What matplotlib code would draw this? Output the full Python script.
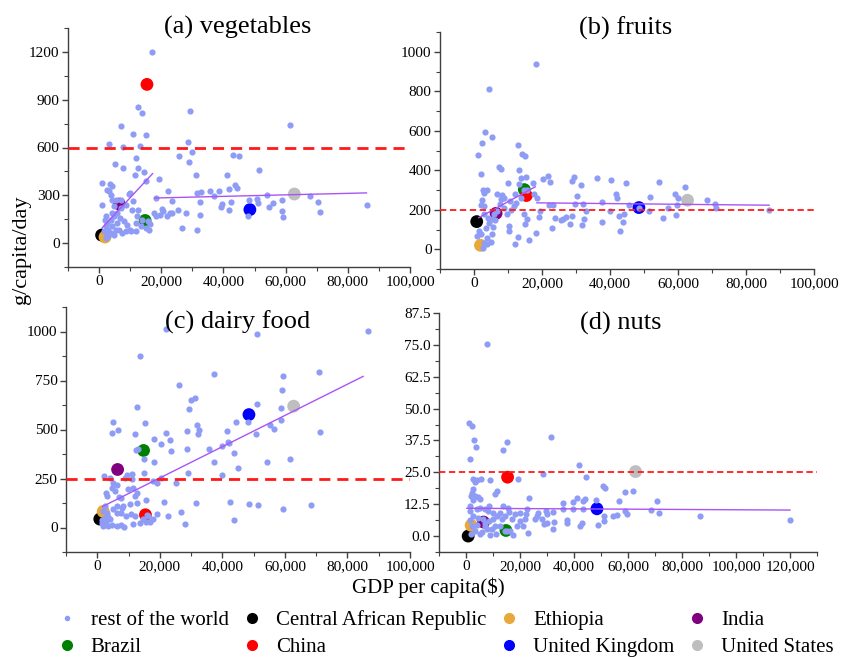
import numpy as np
import matplotlib.pyplot as plt
from matplotlib.lines import Line2D
from matplotlib.ticker import MultipleLocator, FuncFormatter

plt.rcParams['font.family'] = ['Liberation Serif', 'DejaVu Serif']

# ---- highlighted countries ----
countries = ['Central African Republic', 'Ethiopia', 'India', 'Brazil',
             'China', 'United Kingdom', 'United States']
country_colors = ['#000000', '#E8A93A', '#800080', '#008000',
                  '#FF0000', '#0000FF', '#BEBEBE']
country_gdp = [800, 1900, 6500, 14800, 15400, 48500, 62800]

veg_country = [50, 38, 245, 142, 996, 210, 308]
fruit_country = [140, 20, 182, 302, 272, 211, 248]
dairy_country = [43, 82, 296, 393, 65, 576, 619]
nuts_country = [0, 4.2, 5.5, 2.2, 23.1, 10.7, 25.3]

# recommended intake
veg_limit = 600
fruit_limit = 200
dairy_limit = 250
nuts_limit = 25

# fitted lines (gdp, value) at ends of each segment
veg_fit = [([900, 17200], [94, 436]), ([17900, 86000], [283, 315])]
fruit_fit = [([1400, 18000], [160, 316]), ([18500, 86800], [235, 223])]
dairy_fit = [([1700, 85000], [107, 771])]
nuts_fit = [([300, 120000], [10.9, 10.2])]

# ---- rest of the world: (gdp per capita, g/capita/day) ----
veg_rest = [
    (17070, 1200), (12590, 854), (13870, 818), (29120, 828), (6930, 734), (10880, 686),
    (15150, 678), (61330, 740), (3200, 623), (7680, 602), (13120, 608), (28590, 634),
    (29760, 573), (25810, 545), (43200, 552), (45010, 548), (29010, 508), (5230, 499),
    (7680, 472), (12590, 470), (11730, 531), (14400, 447), (11520, 430), (15150, 388),
    (51310, 461), (31250, 426), (41170, 428), (19200, 405), (1070, 376), (3410, 373),
    (2450, 331), (3200, 325), (3730, 304), (10030, 317), (11000, 262), (22080, 327),
    (32850, 319), (31570, 313), (38720, 327), (43730, 363), (44270, 344), (41920, 342),
    (53870, 302), (67840, 296), (70400, 256), (70930, 195), (58880, 273), (56000, 250),
    (54720, 227), (58670, 204), (59200, 164), (48000, 168), (48320, 273), (50670, 279),
    (51200, 252), (42450, 256), (41920, 210), (36800, 296), (35730, 325), (32530, 256),
    (32320, 174), (31470, 84), (26670, 94), (27950, 189), (25280, 210), (23360, 266),
    (18450, 284), (39470, 248), (39150, 227), (86190, 237), (20270, 215), (20590, 200),
    (19730, 178), (22930, 189), (21870, 168), (23470, 190), (18350, 172), (15790, 136),
    (16000, 84), (12270, 168), (11950, 126), (10450, 210), (9070, 115), (8000, 136),
    (6610, 157), (5870, 126), (4800, 168), (4270, 189), (4800, 231), (4050, 273),
    (7150, 220), (8750, 241), (8530, 73), (10130, 73), (11730, 73), (13330, 105),
    (13870, 147), (14930, 94), (3730, 147), (2670, 126), (2130, 105), (1600, 73),
    (3000, 84), (4270, 105), (5330, 84), (6400, 84), (7470, 63), (3730, 63),
    (2670, 52), (4800, 52), (1810, 147), (1070, 241), (5870, 189), (9810, 84),
    (2130, 168), (5330, 273), (6930, 273), (4270, 357), (2300, 35), (2800, 45),
    (17500, 190), (16500, 120), (9500, 310), (12500, 210),
]

fruit_rest = [
    (18240, 937), (4410, 813), (3240, 596), (5290, 568), (2250, 537), (12940, 527),
    (1080, 478), (14020, 481), (15000, 470), (7350, 414), (7840, 405), (2160, 383),
    (13240, 400), (13730, 363), (15200, 368), (10000, 333), (17250, 333), (2750, 301),
    (3730, 301), (2940, 284), (2250, 248), (1960, 225), (2940, 220), (6860, 279),
    (8330, 274), (8820, 262), (7840, 255), (10590, 245), (12060, 279), (13240, 329),
    (14710, 301), (13730, 262), (12450, 236), (11760, 221), (10980, 198), (9610, 177),
    (8820, 211), (7650, 228), (6860, 194), (5880, 177), (5200, 152), (5690, 113),
    (5200, 76), (5100, 39), (3920, 59), (2940, 34), (3920, 25), (2650, 8),
    (1960, 76), (1470, 93), (1000, 68), (3430, 110), (4410, 135), (10290, 118),
    (10290, 93), (12060, 29), (13040, 62), (14710, 177), (14900, 127), (15490, 152),
    (16080, 46), (18240, 81), (18530, 262), (17650, 279), (19360, 194), (19260, 164),
    (20390, 358), (21760, 372), (22350, 341), (22060, 223), (23330, 223), (23720, 160),
    (22840, 110), (25490, 149), (26270, 152), (27160, 164), (28240, 130), (28920, 169),
    (28920, 346), (29410, 368), (29610, 231), (30290, 270), (31570, 324), (31960, 231),
    (31760, 123), (32350, 152), (33040, 194), (36270, 363), (37650, 238), (37550, 140),
    (40290, 350), (40000, 194), (41670, 279), (42160, 258), (42650, 169), (43040, 93),
    (43820, 138), (44710, 333), (44220, 181), (45690, 223), (51670, 265), (51470, 194),
    (54410, 341), (55590, 160), (56960, 211), (59220, 279), (59900, 262), (59710, 225),
    (59510, 172), (61960, 313), (68630, 248), (70780, 231), (71270, 211), (86760, 198),
    (48600, 211), (15600, 300), (4200, 160), (6200, 150), (3000, 180),
]

dairy_rest = [
    (22060, 1014), (51220, 988), (86530, 1005), (13790, 873), (37330, 783), (25980, 729),
    (70840, 792), (59490, 771), (59170, 700), (12830, 615), (30010, 651), (31390, 661),
    (29270, 605), (51220, 631), (58850, 610), (58640, 551), (55140, 522), (56520, 505),
    (71270, 488), (50690, 478), (44330, 539), (48040, 539), (31810, 522), (32660, 495),
    (32340, 478), (21850, 483), (23120, 444), (23440, 390), (20260, 427), (18030, 449),
    (15160, 534), (5090, 537), (6680, 500), (4560, 480), (11980, 478), (12510, 396),
    (14950, 347), (18030, 336), (14950, 276), (11240, 271), (28950, 280), (28630, 402),
    (28630, 492), (35790, 398), (37170, 336), (40030, 415), (41410, 492), (41940, 437),
    (42260, 430), (43850, 381), (45120, 305), (39820, 268), (54300, 336), (61610, 347),
    (20260, 254), (19090, 229), (17820, 237), (25240, 229), (21320, 132), (22590, 59),
    (26830, 81), (28100, 17), (31600, 127), (42520, 132), (43580, 37), (48570, 122),
    (51540, 115), (59490, 93), (68290, 114), (2120, 263), (4030, 254), (5090, 225),
    (6360, 217), (4560, 200), (2760, 178), (3180, 161), (5620, 186), (7000, 158),
    (8800, 254), (9860, 198), (11450, 203), (11980, 161), (12720, 178), (12720, 127),
    (10390, 119), (8270, 110), (7740, 76), (6360, 76), (9330, 59), (10920, 68),
    (11980, 59), (11450, 17), (13570, 25), (14630, 42), (15690, 29), (16960, 29),
    (16220, 59), (17820, 42), (19090, 68), (15690, 140), (7740, 153), (6250, 8),
    (4770, 12), (3500, 8), (1910, 8), (7740, 12), (8480, 2), (4030, 42),
    (2440, 51), (1380, 25), (3180, 76), (4880, 93), (1910, 85), (2440, 110),
    (6360, 110), (15900, 66), (1500, 40), (2800, 30), (3500, 55), (9500, 270),
    (11000, 250), (13000, 400), (8000, 100),
]

nuts_rest = [
    (7780, 75.4), (1110, 44.3), (2100, 43.0), (3090, 37.8), (3700, 34.9), (1600, 30.3),
    (31480, 38.8), (15060, 36.8), (13830, 33.9), (41980, 28.0), (28640, 24.3), (44320, 23.3),
    (2720, 22.4), (3950, 22.1), (5430, 22.4), (8890, 22.1), (19140, 22.4), (3330, 21.1),
    (2470, 18.4), (2100, 16.7), (1730, 15.8), (3330, 15.8), (4570, 15.5), (5190, 14.5),
    (11360, 17.8), (10740, 16.4), (50620, 19.7), (51480, 18.8), (58890, 17.1), (61730, 17.5),
    (23330, 14.9), (41110, 15.1), (44070, 14.5), (39750, 13.4), (36050, 12.8), (48150, 14.1),
    (56540, 13.8), (70860, 13.6), (1480, 11.8), (3950, 10.5), (5190, 11.2), (7040, 10.5),
    (8270, 9.9), (10120, 8.9), (12590, 9.2), (13830, 11.8), (15680, 11.2), (16050, 9.5),
    (18150, 8.6), (20000, 8.9), (22220, 8.6), (26790, 9.2), (26170, 7.9), (29630, 9.9),
    (29880, 8.6), (28020, 6.8), (28890, 4.6), (32100, 9.6), (32720, 5.7), (32220, 2.6),
    (37280, 6.3), (37280, 5.3), (43460, 13.8), (43330, 10.5), (42840, 5.0), (42220, 3.9),
    (48770, 4.2), (51110, 7.9), (51230, 5.8), (54320, 7.9), (55800, 8.3), (58890, 9.9),
    (59750, 8.8), (68400, 10.1), (71480, 9.2), (86670, 7.9), (120000, 6.3), (20000, 5.9),
    (21230, 3.9), (23090, 1.3), (18770, 3.9), (16300, 2.0), (17280, 0.3), (14440, 2.0),
    (12590, 3.9), (10740, 3.9), (9510, 2.6), (8890, 0.3), (7650, 2.6), (5190, 0.7),
    (3330, 2.0), (2100, 3.9), (1480, 6.3), (2720, 7.9), (4570, 7.2), (6420, 6.6),
    (8640, 5.9), (10120, 6.6), (11600, 7.9), (13210, 6.8), (14440, 7.9), (16910, 6.6),
    (1480, 9.9), (2720, 14.2), (8640, 11.8), (7040, 3.9), (22470, 10.5), (21850, 6.6),
    (25560, 6.6), (29880, 5.3), (36050, 10.5), (39750, 10.5), (15300, 2.0), (1700, 1.0),
    (7000, 5.2), (4000, 4.5), (6000, 1.5), (11000, 1.0),
]

panels = [
    ('(a) vegetables', veg_rest, veg_country, veg_limit, veg_fit),
    ('(b) fruits', fruit_rest, fruit_country, fruit_limit, fruit_fit),
    ('(c) dairy food', dairy_rest, dairy_country, dairy_limit, dairy_fit),
    ('(d) nuts', nuts_rest, nuts_country, nuts_limit, nuts_fit),
]

W, H = 841, 657
rest_color = '#8E9CF6'
fit_color = '#A855F7'
spine_color = '#404040'

# axes boxes in pixels: left, top, right, bottom
boxes = [(68, 28, 410, 267), (440, 32, 814, 269), (66, 307, 410, 552), (439, 313, 817, 552)]
ylims = [(-150, 1350), (-100, 1100), (-125, 1125), (-6.25, 87.5)]
ymajor = [300, 200, 250, 12.5]
xlims = [(-10000, 100000)] * 3 + [(-10000, 130000)]
xmax_tick = [100000, 100000, 100000, 120000]
title_pos = [(238, 27), (626, 28), (238, 322), (621, 323)]
dash_style = [((0, (4, 2.5)), 2.0), ((0, (3.5, 2)), 1.3), ((0, (4, 2.5)), 2.0), ((0, (3.5, 2)), 1.3)]

fig = plt.figure(figsize=(W / 100, H / 100), dpi=100)

for i, (title, rest, vals, limit, fits) in enumerate(panels):
    l, t, r, b = boxes[i]
    ax = fig.add_axes([l / W, 1 - b / H, (r - l) / W, (b - t) / H])
    rest = np.array(rest)

    ax.scatter(country_gdp, vals, s=85, c=country_colors, zorder=2, linewidths=0)
    ax.scatter(rest[:, 0], rest[:, 1], s=20, c=rest_color, zorder=3, linewidths=0)
    for fx, fy in fits:
        ax.plot(fx, fy, color=fit_color, lw=1.0, zorder=4)
    ls, lw = dash_style[i]
    ax.axhline(limit, color='#FF1A1A', ls=ls, lw=lw, zorder=5)

    ax.set_xlim(*xlims[i])
    ax.set_ylim(*ylims[i])
    ax.set_xticks(np.arange(0, xmax_tick[i] + 1, 20000))
    ax.xaxis.set_minor_locator(MultipleLocator(10000))
    ax.xaxis.set_major_formatter(FuncFormatter(lambda v, p: f'{int(v):,}'))
    ax.yaxis.set_minor_locator(MultipleLocator(ymajor[i] / 2))
    if i == 3:
        ax.set_yticks(np.arange(0, 87.6, 12.5))
        ax.yaxis.set_major_formatter(FuncFormatter(lambda v, p: f'{v:.1f}'))
    else:
        ax.set_yticks(np.arange(0, ylims[i][1] - 1, ymajor[i]))
        ax.yaxis.set_major_formatter(FuncFormatter(lambda v, p: f'{int(v)}'))

    for side in ['top', 'right']:
        ax.spines[side].set_visible(False)
    for side in ['left', 'bottom']:
        ax.spines[side].set_color(spine_color)
        ax.spines[side].set_linewidth(1.0)
    ax.tick_params(which='major', direction='out', length=4, width=1,
                   color=spine_color, labelsize=11, pad=2)
    ax.tick_params(which='minor', direction='out', length=3, width=0.8, color=spine_color)

    tx, ty = title_pos[i]
    fig.text(tx / W, 1 - ty / H, title, fontsize=19, ha='center', va='center')

fig.text(22 / W, 1 - 250 / H, 'g/capita/day', fontsize=16, rotation=90,
         ha='center', va='center')
fig.text(428 / W, 1 - 588 / H, 'GDP per capita($)', fontsize=15, ha='center', va='center')

# legend, filled column by column
legend_names = ['rest of the world'] + countries
legend_colors = [rest_color] + country_colors
order = [0, 4, 1, 5, 2, 6, 3, 7]
handles = []
for k in order:
    ms = 4 if k == 0 else 8
    handles.append(Line2D([], [], ls='none', marker='o', ms=ms, mew=0,
                          color=legend_colors[k], label=legend_names[k]))
fig.legend(handles=handles, ncol=4, loc='upper left', bbox_to_anchor=(58.5 / W, 1 - 610 / H),
           frameon=False, fontsize=15, handlelength=0.8, handletextpad=0.75,
           columnspacing=0.7, labelspacing=0.38, borderpad=0, borderaxespad=0)

fig.savefig('out.png', dpi=100)
